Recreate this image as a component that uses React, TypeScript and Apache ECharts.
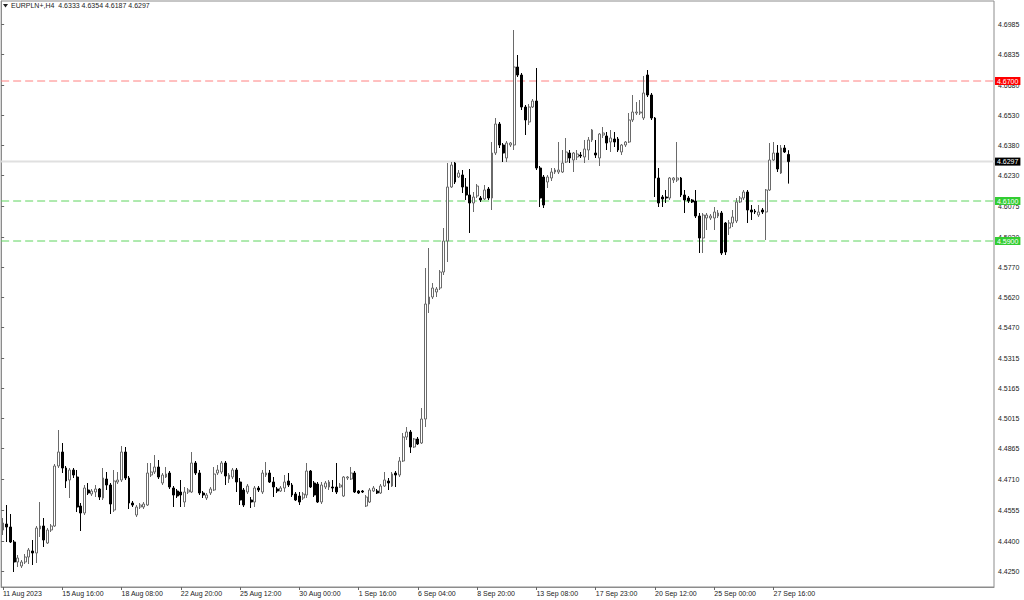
import React, { useEffect, useRef } from 'react';
import * as echarts from 'echarts';

const timeLabels = [
  '11 Aug 2023', '15 Aug 16:00', '18 Aug 08:00', '22 Aug 20:00', '25 Aug 12:00',
  '30 Aug 00:00', '1 Sep 16:00', '6 Sep 04:00', '8 Sep 20:00', '13 Sep 08:00',
  '17 Sep 23:00', '20 Sep 12:00', '25 Sep 00:00', '27 Sep 16:00',
];
const BARS_PER_LABEL = 16;
const SLOT_COUNT = 268;

const opens = [
  4.4455, 4.4485, 4.4470, 4.4395, 4.4295, 4.4275, 4.4295, 4.4320, 4.4350, 4.4340,
  4.4460, 4.4475, 4.4390, 4.4455, 4.4475, 4.4775, 4.4845, 4.4765, 4.4705, 4.4755,
  4.4720, 4.4575, 4.4540, 4.4655, 4.4635, 4.4645, 4.4660, 4.4615, 4.4710, 4.4680,
  4.4555, 4.4695, 4.4705, 4.4845, 4.4715, 4.4590, 4.4530, 4.4570, 4.4570, 4.4580,
  4.4730, 4.4745, 4.4770, 4.4690, 4.4720, 4.4740, 4.4665, 4.4650, 4.4645, 4.4595,
  4.4645, 4.4645, 4.4790, 4.4740, 4.4640, 4.4615, 4.4640, 4.4655, 4.4740, 4.4745,
  4.4790, 4.4710, 4.4720, 4.4755, 4.4695, 4.4655, 4.4645, 4.4605, 4.4595, 4.4665,
  4.4645, 4.4730, 4.4740, 4.4695, 4.4660, 4.4650, 4.4665, 4.4700, 4.4680, 4.4635,
  4.4625, 4.4615, 4.4630, 4.4750, 4.4690, 4.4685, 4.4595, 4.4670, 4.4670, 4.4670,
  4.4670, 4.4670, 4.4625, 4.4715, 4.4710, 4.4740, 4.4650, 4.4650, 4.4575, 4.4595,
  4.4650, 4.4650, 4.4640, 4.4675, 4.4700, 4.4675, 4.4740, 4.4730, 4.4800, 4.4920,
  4.4945, 4.4870, 4.4910, 4.4890, 4.5010, 4.5585, 4.5620, 4.5645, 4.5665, 4.5745,
  4.5900, 4.6170, 4.6290, 4.6220, 4.6230, 4.6170, 4.6130, 4.6090, 4.6125, 4.6115,
  4.6110, 4.6160, 4.6115, 4.6340, 4.6485, 4.6380, 4.6315, 4.6380, 4.6380, 4.6770,
  4.6730, 4.6570, 4.6495, 4.6570, 4.6600, 4.6265, 4.6220, 4.6195, 4.6215, 4.6245,
  4.6245, 4.6245, 4.6295, 4.6340, 4.6305, 4.6320, 4.6330, 4.6320, 4.6355, 4.6405,
  4.6340, 4.6315, 4.6430, 4.6425, 4.6395, 4.6410, 4.6410, 4.6345, 4.6380, 4.6395,
  4.6505, 4.6540, 4.6540, 4.6515, 4.6730, 4.6630, 4.6515, 4.6215, 4.6120, 4.6120,
  4.6115, 4.6205, 4.6205, 4.6215, 4.6130, 4.6115, 4.6105, 4.6100, 4.6025, 4.5915,
  4.6015, 4.6015, 4.6015, 4.6025, 4.6040, 4.5990, 4.5965, 4.5990, 4.6000, 4.6095,
  4.6115, 4.6145, 4.6055, 4.6050, 4.6030, 4.6055, 4.6045, 4.6155, 4.6305, 4.6340,
  4.6240, 4.6365, 4.6333,
];
const closes = [
  4.4490, 4.4470, 4.4395, 4.4295, 4.4315, 4.4295, 4.4320, 4.4355, 4.4340, 4.4465,
  4.4475, 4.4405, 4.4455, 4.4475, 4.4775, 4.4845, 4.4765, 4.4700, 4.4755, 4.4730,
  4.4570, 4.4540, 4.4665, 4.4640, 4.4650, 4.4660, 4.4620, 4.4715, 4.4680, 4.4585,
  4.4700, 4.4705, 4.4845, 4.4715, 4.4590, 4.4580, 4.4570, 4.4580, 4.4585, 4.4740,
  4.4745, 4.4770, 4.4720, 4.4730, 4.4735, 4.4670, 4.4630, 4.4625, 4.4630, 4.4645,
  4.4655, 4.4790, 4.4740, 4.4640, 4.4630, 4.4630, 4.4660, 4.4735, 4.4755, 4.4790,
  4.4725, 4.4730, 4.4755, 4.4695, 4.4605, 4.4580, 4.4675, 4.4595, 4.4665, 4.4655,
  4.4740, 4.4740, 4.4695, 4.4670, 4.4650, 4.4665, 4.4695, 4.4680, 4.4630, 4.4605,
  4.4595, 4.4635, 4.4750, 4.4670, 4.4630, 4.4595, 4.4680, 4.4690, 4.4695, 4.4665,
  4.4645, 4.4680, 4.4720, 4.4720, 4.4740, 4.4645, 4.4640, 4.4645, 4.4620, 4.4655,
  4.4665, 4.4640, 4.4675, 4.4705, 4.4690, 4.4735, 4.4730, 4.4800, 4.4920, 4.4945,
  4.4870, 4.4910, 4.4885, 4.5010, 4.5585, 4.5620, 4.5665, 4.5660, 4.5745, 4.5900,
  4.6170, 4.6280, 4.6195, 4.6240, 4.6170, 4.6130, 4.6090, 4.6120, 4.6175, 4.6105,
  4.6155, 4.6115, 4.6340, 4.6485, 4.6380, 4.6340, 4.6390, 4.6390, 4.6770, 4.6730,
  4.6570, 4.6505, 4.6570, 4.6600, 4.6265, 4.6115, 4.6080, 4.6220, 4.6245, 4.6255,
  4.6255, 4.6290, 4.6345, 4.6315, 4.6340, 4.6335, 4.6325, 4.6360, 4.6405, 4.6455,
  4.6330, 4.6435, 4.6440, 4.6390, 4.6415, 4.6395, 4.6355, 4.6380, 4.6395, 4.6505,
  4.6545, 4.6545, 4.6545, 4.6640, 4.6630, 4.6515, 4.6215, 4.6090, 4.6110, 4.6115,
  4.6215, 4.6215, 4.6215, 4.6130, 4.6105, 4.6100, 4.6095, 4.6025, 4.5915, 4.6030,
  4.6030, 4.6025, 4.6045, 4.6040, 4.5840, 4.5845, 4.5990, 4.6020, 4.6095, 4.6115,
  4.6145, 4.6055, 4.6045, 4.6045, 4.6045, 4.6045, 4.6155, 4.6305, 4.6340, 4.6260,
  4.6365, 4.6345, 4.6297,
];
const lows = [
  4.4430, 4.4395, 4.4390, 4.4245, 4.4270, 4.4265, 4.4285, 4.4285, 4.4280, 4.4290,
  4.4420, 4.4370, 4.4385, 4.4445, 4.4470, 4.4765, 4.4740, 4.4665, 4.4615, 4.4715,
  4.4545, 4.4450, 4.4530, 4.4630, 4.4625, 4.4620, 4.4605, 4.4605, 4.4655, 4.4535,
  4.4545, 4.4685, 4.4695, 4.4705, 4.4560, 4.4570, 4.4520, 4.4560, 4.4560, 4.4575,
  4.4720, 4.4735, 4.4710, 4.4680, 4.4715, 4.4660, 4.4570, 4.4615, 4.4570, 4.4570,
  4.4635, 4.4640, 4.4730, 4.4630, 4.4615, 4.4605, 4.4630, 4.4650, 4.4730, 4.4735,
  4.4680, 4.4690, 4.4710, 4.4645, 4.4580, 4.4570, 4.4635, 4.4565, 4.4570, 4.4645,
  4.4635, 4.4720, 4.4690, 4.4620, 4.4640, 4.4645, 4.4645, 4.4670, 4.4620, 4.4600,
  4.4580, 4.4605, 4.4615, 4.4665, 4.4620, 4.4590, 4.4585, 4.4660, 4.4655, 4.4645,
  4.4635, 4.4665, 4.4620, 4.4705, 4.4705, 4.4640, 4.4635, 4.4640, 4.4570, 4.4590,
  4.4645, 4.4635, 4.4635, 4.4670, 4.4655, 4.4670, 4.4670, 4.4720, 4.4795, 4.4905,
  4.4840, 4.4865, 4.4880, 4.4885, 4.4970, 4.5540, 4.5610, 4.5620, 4.5655, 4.5730,
  4.5795, 4.6165, 4.6185, 4.6215, 4.6140, 4.6105, 4.5940, 4.6045, 4.6115, 4.6095,
  4.6105, 4.6105, 4.6055, 4.6330, 4.6365, 4.6295, 4.6295, 4.6370, 4.6355, 4.6720,
  4.6555, 4.6430, 4.6480, 4.6565, 4.6255, 4.6070, 4.6065, 4.6165, 4.6200, 4.6235,
  4.6235, 4.6240, 4.6290, 4.6290, 4.6245, 4.6305, 4.6315, 4.6290, 4.6305, 4.6395,
  4.6315, 4.6275, 4.6415, 4.6355, 4.6345, 4.6370, 4.6345, 4.6330, 4.6370, 4.6390,
  4.6495, 4.6530, 4.6530, 4.6505, 4.6620, 4.6505, 4.6120, 4.6070, 4.6070, 4.6090,
  4.6105, 4.6190, 4.6195, 4.6120, 4.6040, 4.6090, 4.6090, 4.6015, 4.5840, 4.5840,
  4.5955, 4.6005, 4.5955, 4.6015, 4.5830, 4.5830, 4.5930, 4.5970, 4.5990, 4.6090,
  4.6105, 4.5990, 4.6005, 4.6035, 4.6020, 4.6035, 4.5905, 4.6150, 4.6300, 4.6245,
  4.6235, 4.6340, 4.6187,
];
const highs = [
  4.4515, 4.4580, 4.4535, 4.4405, 4.4330, 4.4305, 4.4335, 4.4365, 4.4405, 4.4475,
  4.4595, 4.4515, 4.4465, 4.4485, 4.4785, 4.4955, 4.4890, 4.4775, 4.4765, 4.4765,
  4.4755, 4.4590, 4.4680, 4.4690, 4.4660, 4.4680, 4.4665, 4.4765, 4.4745, 4.4690,
  4.4755, 4.4745, 4.4875, 4.4870, 4.4725, 4.4600, 4.4580, 4.4590, 4.4595, 4.4790,
  4.4790, 4.4830, 4.4805, 4.4740, 4.4770, 4.4750, 4.4675, 4.4660, 4.4705, 4.4670,
  4.4665, 4.4845, 4.4800, 4.4755, 4.4650, 4.4640, 4.4670, 4.4770, 4.4780, 4.4800,
  4.4800, 4.4740, 4.4765, 4.4765, 4.4715, 4.4665, 4.4685, 4.4620, 4.4675, 4.4675,
  4.4755, 4.4795, 4.4755, 4.4720, 4.4670, 4.4675, 4.4730, 4.4740, 4.4690, 4.4645,
  4.4645, 4.4645, 4.4790, 4.4755, 4.4700, 4.4695, 4.4695, 4.4700, 4.4705, 4.4705,
  4.4790, 4.4690, 4.4725, 4.4725, 4.4770, 4.4750, 4.4655, 4.4655, 4.4630, 4.4665,
  4.4675, 4.4660, 4.4685, 4.4745, 4.4715, 4.4745, 4.4750, 4.4820, 4.4940, 4.4970,
  4.4955, 4.4915, 4.4920, 4.5065, 4.5765, 4.5865, 4.5690, 4.5670, 4.5755, 4.5965,
  4.6290, 4.6295, 4.6295, 4.6255, 4.6255, 4.6215, 4.6260, 4.6145, 4.6185, 4.6125,
  4.6180, 4.6170, 4.6395, 4.6515, 4.6495, 4.6390, 4.6400, 4.6395, 4.6955, 4.6830,
  4.6740, 4.6580, 4.6585, 4.6610, 4.6765, 4.6275, 4.6230, 4.6230, 4.6265, 4.6265,
  4.6395, 4.6355, 4.6415, 4.6355, 4.6345, 4.6355, 4.6345, 4.6405, 4.6420, 4.6460,
  4.6405, 4.6440, 4.6470, 4.6445, 4.6455, 4.6445, 4.6420, 4.6385, 4.6400, 4.6540,
  4.6630, 4.6595, 4.6605, 4.6725, 4.6755, 4.6640, 4.6520, 4.6265, 4.6130, 4.6155,
  4.6220, 4.6220, 4.6395, 4.6220, 4.6155, 4.6125, 4.6110, 4.6155, 4.6040, 4.6040,
  4.6040, 4.6035, 4.6070, 4.6055, 4.6050, 4.5995, 4.6005, 4.6055, 4.6115, 4.6125,
  4.6155, 4.6155, 4.6080, 4.6060, 4.6080, 4.6065, 4.6160, 4.6390, 4.6395, 4.6380,
  4.6380, 4.6380, 4.6354,
];

const priceTicks = [
  4.6985, 4.6835, 4.6680, 4.6530, 4.6380, 4.6230, 4.6075, 4.5920, 4.5770, 4.5620,
  4.5470, 4.5315, 4.5165, 4.5015, 4.4865, 4.4710, 4.4555, 4.4400, 4.4250,
];
const resistanceLevel = 4.67;
const supportLevels = [4.61, 4.59];
const symbolName = 'EURPLN+,H4';

const FONT = '"Liberation Sans", Arial, sans-serif';

export default function App() {
  const ref = useRef<HTMLDivElement>(null);

  useEffect(() => {
    if (!ref.current) return;
    const chart = echarts.init(ref.current, null, { renderer: 'svg' });
    const n = opens.length;
    const last = n - 1;
    const categories = Array.from({ length: SLOT_COUNT }, (_, i) =>
      i % BARS_PER_LABEL === 0 && i / BARS_PER_LABEL < timeLabels.length
        ? timeLabels[i / BARS_PER_LABEL]
        : `#${i}`
    );
    const data = opens.map((o, i) => [o, closes[i], lows[i], highs[i]]);
    const showAt = (i: number) => i % BARS_PER_LABEL === 0 && i / BARS_PER_LABEL < timeLabels.length;

    // Horizontal level line spanning the full plot width (on a hidden 0..1 x axis)
    const levelSeries = (name: string, level: number, lineColor: string, boxColor: string, type: any, width: number) => ({
      name,
      type: 'line',
      xAxisIndex: 1,
      yAxisIndex: 0,
      data: [[0, level], [1, level]],
      showSymbol: false,
      symbol: 'none',
      silent: true,
      z: 2,
      lineStyle: { color: lineColor, type, width },
      itemStyle: { color: lineColor },
      endLabel: {
        show: true,
        formatter: () => level.toFixed(4),
        color: '#ffffff',
        backgroundColor: boxColor,
        fontSize: 7,
        fontFamily: FONT,
        lineHeight: 8,
        padding: [0, 2, 0, 2],
        distance: 1,
      },
    });

    const titleText = `${symbolName}  ${opens[last].toFixed(4)} ${highs[last].toFixed(4)} ${lows[last].toFixed(4)} ${closes[last].toFixed(4)}`;

    chart.setOption({
      animation: false,
      backgroundColor: '#ffffff',
      title: {
        text: titleText,
        left: 11,
        top: 2,
        padding: 0,
        textStyle: { fontSize: 7, fontWeight: 'normal', color: '#222222', fontFamily: FONT },
      },
      graphic: [
        {
          type: 'polygon',
          shape: { points: [[3, 4], [8, 4], [5.5, 7.5]] },
          style: { fill: '#222222' },
        },
      ],
      grid: {
        left: 0,
        top: 1,
        right: 30,
        bottom: 13,
        show: true,
        borderColor: '#8c8c8c',
        borderWidth: 1,
        backgroundColor: '#ffffff',
      },
      xAxis: [
        {
          type: 'category',
          data: categories,
          boundaryGap: true,
          axisLine: { show: true, lineStyle: { color: '#8c8c8c' } },
          axisTick: {
            show: true,
            alignWithLabel: true,
            interval: (i: number) => showAt(i),
            length: 3,
            lineStyle: { color: '#666666' },
          },
          axisLabel: {
            interval: (i: number) => showAt(i),
            formatter: (v: string) => (v.startsWith('#') ? '' : v),
            align: 'left',
            fontSize: 7,
            color: '#222222',
            margin: 3,
            fontFamily: FONT,
          },
          splitLine: { show: false },
        },
        {
          type: 'value',
          min: 0,
          max: 1,
          show: false,
          splitLine: { show: false },
        },
      ],
      yAxis: {
        type: 'value',
        position: 'right',
        min: 4.417,
        max: 4.71,
        scale: true,
        axisLine: { show: true, lineStyle: { color: '#8c8c8c' } },
        axisTick: { show: true, customValues: priceTicks, length: 3, lineStyle: { color: '#666666' } },
        axisLabel: {
          customValues: priceTicks,
          formatter: (v: number) => v.toFixed(4),
          fontSize: 7,
          color: '#222222',
          margin: 4,
          fontFamily: FONT,
        },
        splitLine: { show: false },
      },
      series: [
        levelSeries('Bid', closes[last], '#e0e0e0', '#000000', 'solid', 2),
        levelSeries('Resistance', resistanceLevel, '#ff8080', '#ff0000', [8, 4], 1),
        ...supportLevels.map((v, k) => levelSeries(`Support ${k + 1}`, v, '#5fd45f', '#32cd32', [8, 4], 1)),
        {
          name: 'EURPLN',
          type: 'candlestick',
          xAxisIndex: 0,
          data,
          barWidth: 2.4,
          z: 3,
          itemStyle: {
            color: '#ffffff',
            color0: '#000000',
            borderColor: '#6a6a6a',
            borderColor0: '#000000',
            borderWidth: 1,
          },
        },
      ],
    });

    return () => chart.dispose();
  }, []);

  return (
    <div
      ref={ref}
      style={{ position: 'fixed', left: 0, top: 0, width: 1024, height: 600, background: '#ffffff' }}
    />
  );
}
